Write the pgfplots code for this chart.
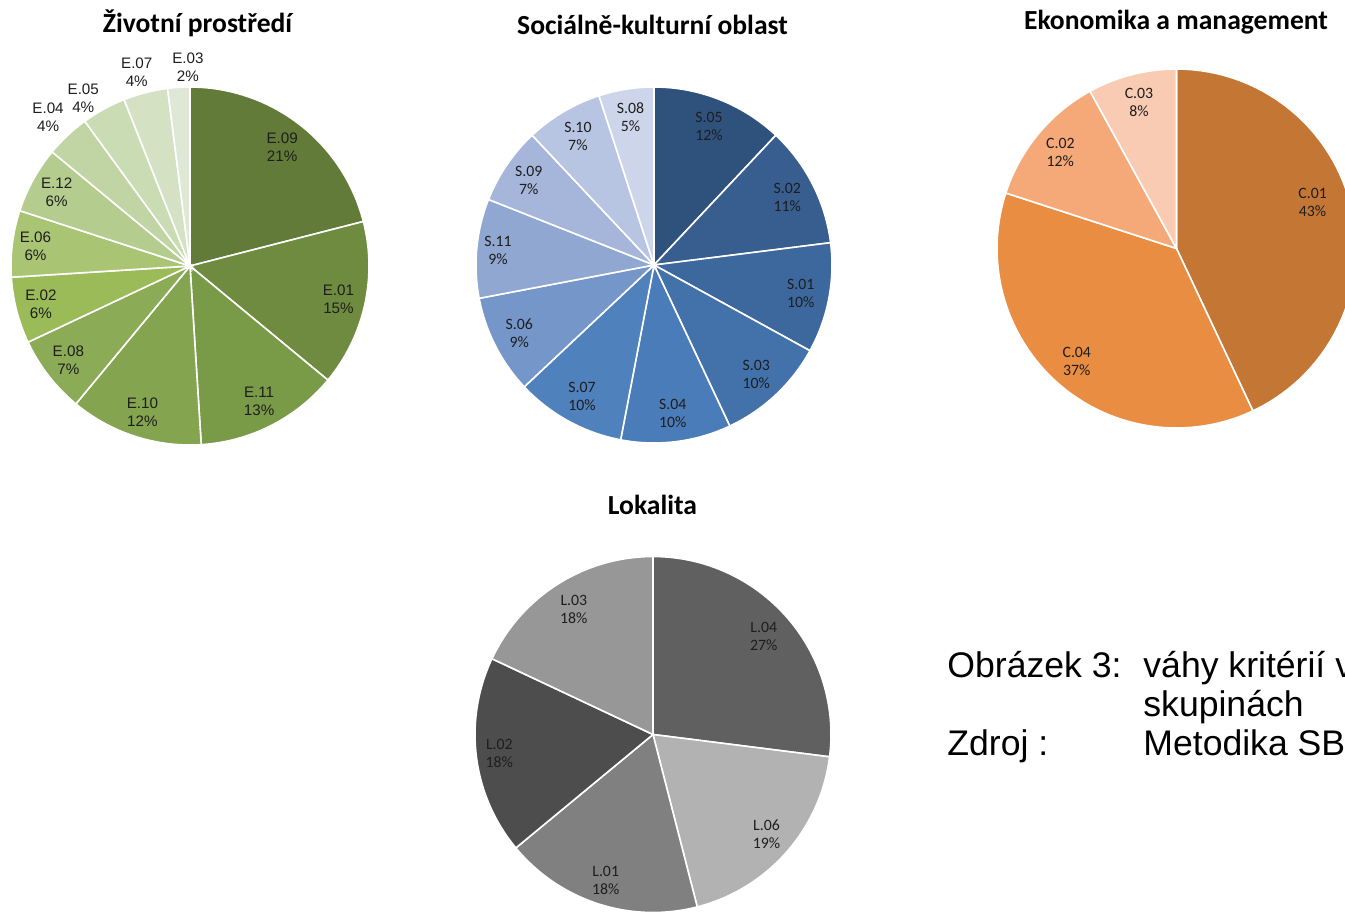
\documentclass[border=0pt]{standalone}
\usepackage{fontspec}
\setmainfont{Liberation Sans}
\newfontfamily\calibri{Carlito}
\usepackage{pgfplots}
\pgfplotsset{compat=1.18}
\usepgfplotslibrary{polar}

% green shades
\definecolor{e09}{HTML}{637B38}
\definecolor{e01}{HTML}{6F8B3F}
\definecolor{e11}{HTML}{799A46}
\definecolor{e10}{HTML}{84A44F}
\definecolor{e08}{HTML}{8BAB56}
\definecolor{e02}{HTML}{9BBB59}
\definecolor{e06}{HTML}{A9C574}
\definecolor{e12}{HTML}{B4CD8E}
\definecolor{e04}{HTML}{C0D5A3}
\definecolor{e05}{HTML}{CADCB3}
\definecolor{e07}{HTML}{D4E2C3}
\definecolor{e03}{HTML}{DEE8D4}
% blue shades
\definecolor{s05}{HTML}{2F527D}
\definecolor{s02}{HTML}{375E8F}
\definecolor{s01}{HTML}{3D689E}
\definecolor{s03}{HTML}{4372AB}
\definecolor{s04}{HTML}{497CB9}
\definecolor{s07}{HTML}{4F81BD}
\definecolor{s06}{HTML}{7596C9}
\definecolor{s11}{HTML}{8FA7D1}
\definecolor{s09}{HTML}{A5B6DA}
\definecolor{s10}{HTML}{B8C5E2}
\definecolor{s08}{HTML}{CDD5EA}
% orange shades
\definecolor{c01}{HTML}{C47635}
\definecolor{c04}{HTML}{E88D42}
\definecolor{c02}{HTML}{F6A978}
\definecolor{c03}{HTML}{F8CBB2}
% greys
\definecolor{l04}{HTML}{606060}
\definecolor{l06}{HTML}{B2B2B2}
\definecolor{l01}{HTML}{808080}
\definecolor{l02}{HTML}{4D4D4D}
\definecolor{l03}{HTML}{979797}
\definecolor{labeltext}{HTML}{1E1E1E}

\newcommand\lblfont{}
\tikzset{lbl/.style={font=\lblfont, align=center, inner sep=0pt, text=labeltext},
  ttl/.style={font=\calibri\bfseries\fontsize{13.8pt}{16pt}\selectfont, anchor=base, inner sep=0pt}}

% slice: start (cumulative %), value %, colour, name, label radius, label angle shift
\newcommand\slice[6]{%
  \pgfmathsetmacro\aA{90-3.6*(#1)}%
  \pgfmathsetmacro\aB{90-3.6*(#1+#2)}%
  \pgfmathsetmacro\aM{90-3.6*(#1+#2/2)+#6}%
  \addplot[fill=#3, draw=white, line width=0.8pt, domain=\aB:\aA, samples=60] {1} -- (axis cs:0,0) -- cycle;
  \edef\tmp{\noexpand\node[lbl] at (axis cs:\aM,#5) {#4\noexpand\\#2\noexpand\%};}\tmp
}

\pgfplotsset{pie/.style={hide axis, scale only axis, xmin=0, xmax=360, ymin=0, ymax=1,
  clip=false, anchor=center}}

\begin{document}
\begin{tikzpicture}
\useasboundingbox (0,0) rectangle (672.5pt,-457pt);
\clip (0,0) rectangle (672.5pt,-457pt);

%% Zivotni prostredi
\renewcommand\lblfont{\fontsize{7.6pt}{9pt}\selectfont}
\begin{polaraxis}[pie, at={(95pt,-133pt)}, width=179pt, height=179pt]
\slice{0}{21}{e09}{E.09}{0.84}{0}
\slice{21}{15}{e01}{E.01}{0.85}{0}
\slice{36}{13}{e11}{E.11}{0.85}{0}
\slice{49}{12}{e10}{E.10}{0.86}{0}
\slice{61}{7}{e08}{E.08}{0.86}{0}
\slice{68}{6}{e02}{E.02}{0.86}{0}
\slice{74}{6}{e06}{E.06}{0.87}{0}
\slice{80}{6}{e12}{E.12}{0.85}{0}
\slice{86}{4}{e04}{E.04}{1.15}{0.4}
\slice{90}{4}{e05}{E.05}{1.11}{3.7}
\slice{94}{4}{e07}{E.07}{1.12}{1}
\slice{98}{2}{e03}{E.03}{1.11}{-3}
\end{polaraxis}

%% Socialne-kulturni oblast
\renewcommand\lblfont{\calibri\fontsize{7.9pt}{9pt}\selectfont}
\begin{polaraxis}[pie, at={(327pt,-132.5pt)}, width=178pt, height=178pt]
\slice{0}{12}{s05}{S.05}{0.84}{0}
\slice{12}{11}{s02}{S.02}{0.84}{0}
\slice{23}{10}{s01}{S.01}{0.84}{0}
\slice{33}{10}{s03}{S.03}{0.84}{0}
\slice{43}{10}{s04}{S.04}{0.84}{0}
\slice{53}{10}{s07}{S.07}{0.84}{0}
\slice{63}{9}{s06}{S.06}{0.85}{0}
\slice{72}{9}{s11}{S.11}{0.88}{0}
\slice{81}{7}{s09}{S.09}{0.85}{0}
\slice{88}{7}{s10}{S.10}{0.84}{0}
\slice{95}{5}{s08}{S.08}{0.84}{0}
\end{polaraxis}

%% Ekonomika a management
\begin{polaraxis}[pie, at={(588.25pt,-124.25pt)}, width=179.5pt, height=179.5pt]
\slice{0}{43}{c01}{C.01}{0.80}{6}
\slice{43}{37}{c04}{C.04}{0.84}{0}
\slice{80}{12}{c02}{C.02}{0.84}{0}
\slice{92}{8}{c03}{C.03}{0.84}{0}
\end{polaraxis}

%% Lokalita
\begin{polaraxis}[pie, at={(326.5pt,-367.25pt)}, width=178pt, height=178pt]
\slice{0}{27}{l04}{L.04}{0.83}{0}
\slice{27}{19}{l06}{L.06}{0.85}{0}
\slice{46}{18}{l01}{L.01}{0.86}{0}
\slice{64}{18}{l02}{L.02}{0.87}{0}
\slice{82}{18}{l03}{L.03}{0.83}{0}
\end{polaraxis}

%% titles
\node[ttl] at (98.75pt,-16.5pt) {Životní prostředí};
\node[ttl] at (326.25pt,-17.5pt) {Sociálně-kulturní oblast};
\node[ttl] at (588pt,-15pt) {Ekonomika a management};
\node[ttl] at (326.25pt,-257.5pt) {Lokalita};

%% caption (cut at the right edge as in the source)
\begin{scope}[every node/.style={anchor=base west, inner sep=0pt, font=\fontsize{17.8pt}{20pt}\selectfont}]
\node at (473.5pt,-338.5pt) {Obrázek 3:};
\node at (571.5pt,-338.5pt) {váhy kritérií v};
\node at (571.5pt,-358pt) {skupinách};
\node at (473.5pt,-377.5pt) {Zdroj :};
\node at (571.5pt,-377.5pt) {Metodika SB};
\end{scope}
\end{tikzpicture}
\end{document}
